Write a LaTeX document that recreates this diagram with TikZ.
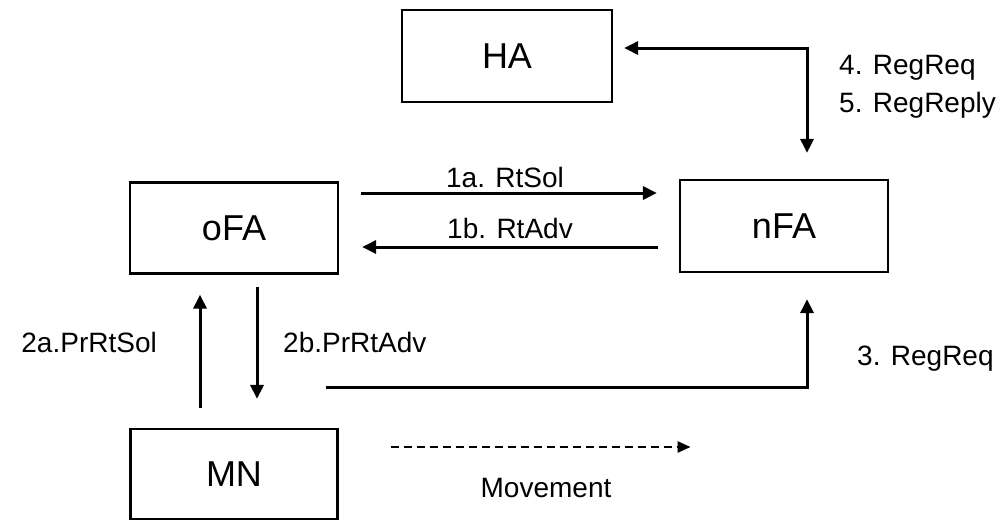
\documentclass[tikz,border=0pt]{standalone}
\usepackage{fontspec}
\setmainfont{Liberation Sans}
\usetikzlibrary{arrows.meta,calc}
\begin{document}
\begin{tikzpicture}[x=1pt,y=-1pt,
  box/.style={draw,line width=2.2pt,minimum width=208pt,minimum height=91pt,inner sep=0pt,
    font=\fontsize{36}{40}\selectfont},
  lbl/.style={inner sep=0pt,font=\fontsize{28}{32}\selectfont},
  arr/.style={line width=3pt,-{Triangle[length=14pt,width=13pt]}},
  darr/.style={line width=3pt,{Triangle[length=14pt,width=13pt]}-{Triangle[length=14pt,width=13pt]}},
  dasharr/.style={line width=2.4pt,dash pattern=on 8pt off 5pt,-{Triangle[length=13pt,width=11pt]}}]
\useasboundingbox (0,0) rectangle (1008,520);
% boxes
\node[box,minimum width=210pt,minimum height=92pt] (HA) at (507,56) {HA};
\node[box] (oFA) at (234,228) {oFA};
\node[box,minimum height=92pt] (nFA) at (784,226) {nFA};
\node[box,minimum width=207pt,minimum height=90pt] (MN) at (234,474) {MN};
% connectors
\draw[arr] ($(oFA.east)+(22,-35)$) -- ($(nFA.west |- oFA.east)+(-22,-35)$);
\draw[arr] ($(nFA.west |- oFA.east)+(-21,19)$) -- ($(oFA.east)+(23,19)$);
\draw[darr] ($(HA.east)+(11,-8)$) -| ($(nFA.north)+(23,-26)$);
\draw[arr] ($(MN.north)+(-34,-20)$) -- ($(oFA.south)+(-34,20)$);
\draw[arr] ($(oFA.south)+(23,12)$) -- ($(MN.north)+(23,-29)$);
\draw[arr] ($(MN.north east)+(-13,-40)$) -| ($(nFA.south)+(23,26)$);
\draw[dasharr] ($(MN.east)+(52,-27)$) -- ($(MN.east)+(352,-27)$);
% labels
\node[lbl,anchor=base] (l1a) at (505,187) {1a. RtSol};
\node[lbl,anchor=base] (l1b) at (510,238) {1b. RtAdv};
\node[lbl,anchor=base west] (l4) at (839,74) {4. RegReq};
\node[lbl,anchor=base west] (l5) at (839,112) {5. RegReply};
\node[lbl,anchor=base east] (l2a) at (157,352) {2a.PrRtSol};
\node[lbl,anchor=base west] (l2b) at (283,352) {2b.PrRtAdv};
\node[lbl,anchor=base west] (l3) at (857,365) {3. RegReq};
\node[lbl,anchor=base] (lmv) at (546,497) {Movement};
\end{tikzpicture}
\end{document}
